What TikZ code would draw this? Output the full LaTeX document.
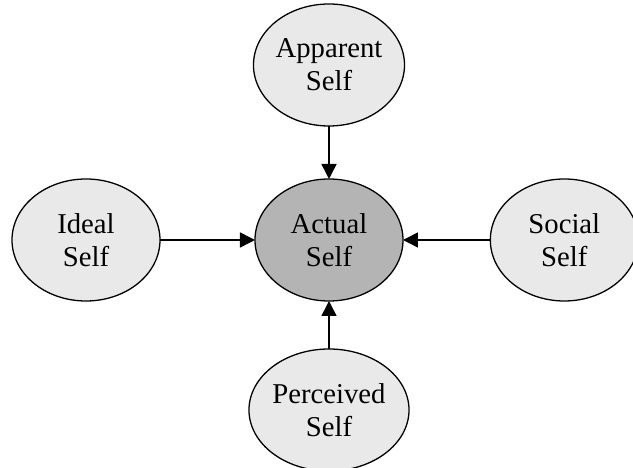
\documentclass[tikz,border=0pt]{standalone}
\usepackage{fontspec}
\setmainfont{Liberation Serif}
\usetikzlibrary{arrows.meta,shapes.geometric,positioning}

\definecolor{selfgray}{HTML}{E9E9E9}
\definecolor{actualgray}{HTML}{B4B4B4}

\tikzset{
  self/.style={draw,ellipse,fill=selfgray,line width=1.1pt,inner sep=0pt,outer sep=0pt,
    minimum width=4.44cm,minimum height=3.66cm,align=center,
    font=\fontsize{24.5}{28}\selectfont},
  actualself/.style={self,fill=actualgray}
}

\begin{document}
\begin{tikzpicture}[>={Triangle[length=0.45cm,width=0.45cm]},line width=1.3pt]
\useasboundingbox (-9.87,-6.84) rectangle (9.12,7.2);
\node[actualself] (actual) {Actual\\Self};
\node[self,above=1.59cm of actual] (apparent) {Apparent\\Self}; \path[draw,->] (apparent) edge (actual);
\node[self,left=2.85cm of actual] (ideal) {Ideal\\Self}; \path[draw,->] (ideal) edge (actual);
\node[self,right=2.62cm of actual] (social) {Social\\Self}; \path[draw,->] (social) edge (actual);
\node[self,below=1.44cm of actual] (perceived) {Perceived\\Self}; \path[draw,->] (perceived) edge (actual);
\end{tikzpicture}
\end{document}
